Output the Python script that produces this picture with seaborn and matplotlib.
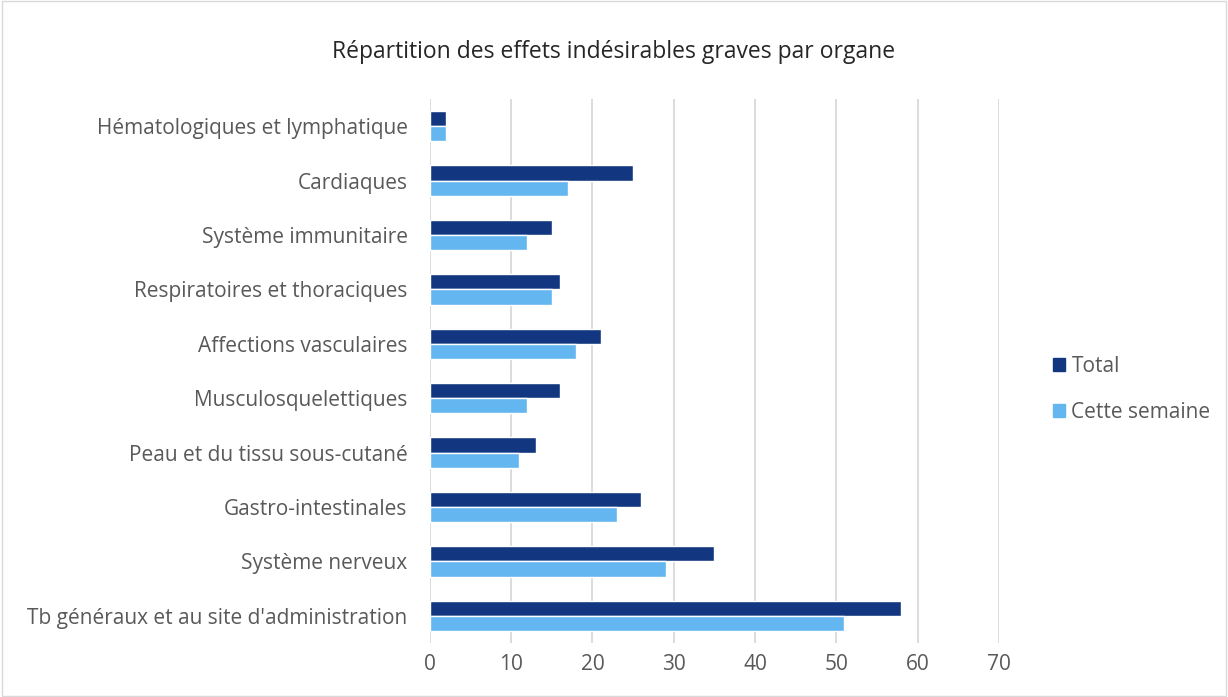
import matplotlib
matplotlib.use("Agg")
import matplotlib.pyplot as plt
import seaborn as sns
import pandas as pd
from matplotlib.patches import Rectangle

# Données
organes = [
    "Hématologiques et lymphatique",
    "Cardiaques",
    "Système immunitaire",
    "Respiratoires et thoraciques",
    "Affections vasculaires",
    "Musculosquelettiques",
    "Peau et du tissu sous-cutané",
    "Gastro-intestinales",
    "Système nerveux",
    "Tb généraux et au site d'administration",
]
total = [2, 25, 15, 16, 21, 16, 13, 26, 35, 58]
cette_semaine = [2, 17, 12, 15, 18, 12, 11, 23, 29, 51]
series = ["Total", "Cette semaine"]
couleurs = ["#123780", "#63b6ef"]
graduations = [0, 10, 20, 30, 40, 50, 60, 70]

df = pd.DataFrame({
    "organe": organes * 2,
    "valeur": total + cette_semaine,
    "serie": [series[0]] * len(organes) + [series[1]] * len(organes),
})

sns.set_style("white")
plt.rcParams["font.family"] = ["Open Sans", "DejaVu Sans"]
gris = "#595959"

fig = plt.figure(figsize=(12.28, 6.97), dpi=100)
ax = fig.add_axes([0.350, 0.0775, 0.4635, 0.7805])

sns.barplot(data=df, y="organe", x="valeur", hue="serie", hue_order=series,
            palette=couleurs, orient="h", width=0.56, ax=ax, legend=False,
            saturation=1)

ax.set_xlim(0, 70)
ax.set_xticks(graduations)
ax.xaxis.grid(True, color="#d9d9d9", linewidth=1.3)
ax.set_axisbelow(True)
for s in ax.spines.values():
    s.set_visible(False)
ax.set_xlabel("")
ax.set_ylabel("")
ax.tick_params(axis="both", length=0, labelsize=15, colors=gris)
ax.tick_params(axis="y", pad=16)
ax.tick_params(axis="x", pad=8)

fig.text(0.5, 0.926, "Répartition des effets indésirables graves par organe",
         ha="center", va="center", fontsize=16.5, color="#262626")

# légende à droite
handles = [Rectangle((0, 0), 1, 1, color=c) for c in couleurs]
fig.legend(handles, series, loc="center left", bbox_to_anchor=(0.842, 0.441),
           frameon=False, fontsize=15, handlelength=0.6, handleheight=0.6,
           handletextpad=0.3, labelspacing=1.2, labelcolor=gris)

# cadre du graphique
fig.patches.append(Rectangle((0.002, 0.002), 0.996, 0.996, transform=fig.transFigure,
                             fill=False, edgecolor="#d9d9d9", linewidth=1))

fig.savefig("out.png", dpi=100)
